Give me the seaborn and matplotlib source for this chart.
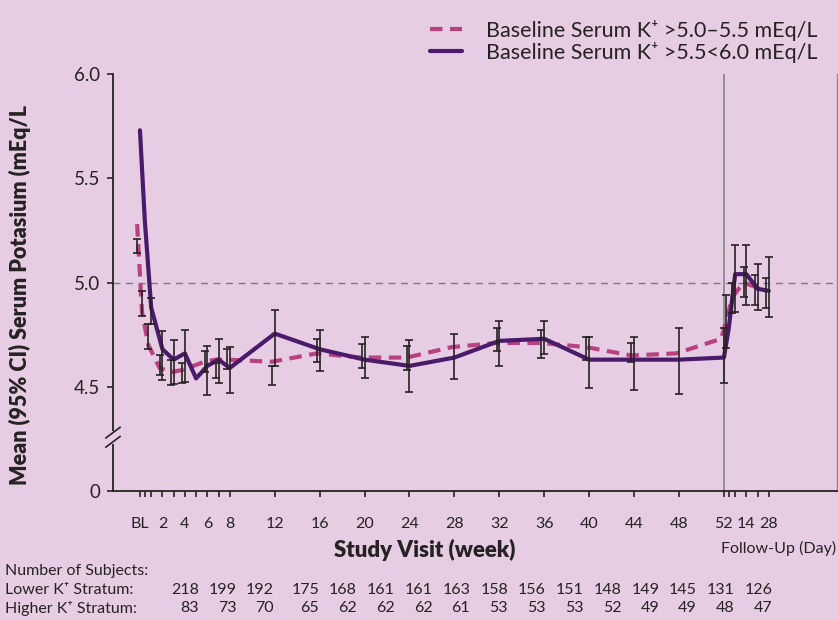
import numpy as np
import pandas as pd
import matplotlib
matplotlib.use("Agg")
import matplotlib.pyplot as plt
import seaborn as sns

# visits (weeks); follow-up days converted to weeks after week 52
weeks = [0, 0.43, 1, 2, 3, 4, 5, 6, 7, 8, 12, 16, 20, 24, 28, 32, 36, 40, 44, 48,
         52, 52.43, 53, 54, 55, 56]

lower_label = "Baseline Serum K\u207a >5.0\u20135.5 mEq/L"
higher_label = "Baseline Serum K\u207a >5.5<6.0 mEq/L"

lower_mean = [5.28, 4.86, 4.70, 4.59, 4.57, 4.58, 4.60, 4.62, 4.63, 4.63, 4.62, 4.66,
              4.64, 4.64, 4.69, 4.71, 4.71, 4.69, 4.65, 4.66, 4.73, 4.81, 4.93, 5.00,
              4.98, 4.96]
higher_mean = [5.73, 5.30, 4.88, 4.68, 4.63, 4.66, 4.54, 4.60, 4.63, 4.59, 4.755, 4.68,
               4.63, 4.60, 4.64, 4.72, 4.73, 4.63, 4.63, 4.63, 4.64, 4.78, 5.04, 5.04,
               4.97, 4.96]

nan = np.nan
lower_lo = [5.14, 4.84, 4.68, 4.555, 4.51, 4.52, nan, 4.57, 4.54, 4.585, 4.51, 4.62,
            4.59, 4.58, nan, 4.67, 4.64, 4.63, 4.62, nan, nan, 4.685, 4.855, 4.93,
            4.89, 4.88]
lower_hi = [5.21, 4.96, 4.80, 4.65, 4.63, 4.615, nan, 4.67, 4.615, 4.68, 4.60, 4.73,
            4.705, 4.695, nan, 4.78, 4.77, 4.74, 4.71, nan, nan, 4.94, 5.00, 5.075,
            5.035, 5.02]
higher_lo = [nan, nan, 4.80, 4.53, 4.515, 4.525, nan, 4.46, 4.52, 4.47, 4.60, 4.575,
             4.54, 4.475, 4.535, 4.60, 4.655, 4.495, 4.485, 4.465, 4.52, nan, 4.86,
             4.89, 4.87, 4.835]
higher_hi = [nan, nan, 4.925, 4.765, 4.725, 4.77, nan, 4.695, 4.73, 4.69, 4.87, 4.77,
             4.74, 4.725, 4.755, 4.815, 4.815, 4.74, 4.74, 4.78, 4.78, nan, 5.18,
             5.18, 5.09, 5.12]

major_ticks = [0, 2, 4, 6, 8, 12, 16, 20, 24, 28, 32, 36, 40, 44, 48, 52, 54, 56]
major_labels = ["BL", "2", "4", "6", "8", "12", "16", "20", "24", "28", "32", "36",
                "40", "44", "48", "52", "14", "28"]
minor_ticks = [0.43, 1, 3, 5, 7, 52.43, 53, 55]
y_ticks = [4.0, 4.5, 5.0, 5.5, 6.0]
y_labels = ["0", "4.5", "5.0", "5.5", "6.0"]

lower_n = [218, 199, 192, 175, 168, 161, 161, 163, 158, 156, 151, 148, 149, 145, 131, 126]
higher_n = [83, 73, 70, 65, 62, 62, 62, 61, 53, 53, 53, 52, 49, 49, 48, 47]

BG = "#E6CDE3"
PINK = "#B8427F"
PURPLE = "#4A1A6B"
INK = "#262223"

sns.set_theme(style="ticks", rc={"figure.facecolor": BG, "axes.facecolor": BG,
                                 "axes.edgecolor": INK, "text.color": INK,
                                 "xtick.color": INK, "ytick.color": INK,
                                 "axes.labelcolor": INK})
plt.rcParams["font.family"] = ["Lato", "DejaVu Sans"]

W, H = 838, 620
fig = plt.figure(figsize=(W / 100, H / 100), dpi=100)
ax = fig.add_axes([113 / W, 129 / H, 724 / W, 417 / H])

shift = -0.25  # lower stratum drawn a touch to the left
wk = np.array(weeks)
df = pd.DataFrame({
    "week": np.concatenate([wk + shift, wk]),
    "mean": lower_mean + higher_mean,
    "stratum": [lower_label] * len(weeks) + [higher_label] * len(weeks),
})

ax.axhline(5.0, color="#7A7A7A", lw=1.0, dashes=(5, 4), zorder=1)
ax.axvline(52, color="#8A8A8A", lw=1.3, zorder=1)

sns.lineplot(data=df, x="week", y="mean", hue="stratum", style="stratum",
             palette={lower_label: PINK, higher_label: PURPLE},
             dashes={lower_label: (3, 1.8), higher_label: ""},
             linewidth=3.0, sort=False, estimator=None, ax=ax, zorder=2)

for xs, lo, hi in [(wk + shift, lower_lo, lower_hi), (wk, higher_lo, higher_hi)]:
    lo = np.array(lo)
    hi = np.array(hi)
    ax.errorbar(xs, (lo + hi) / 2, yerr=(hi - lo) / 2, fmt="none", ecolor=INK,
                elinewidth=1.2, capsize=3, capthick=1.2, zorder=3)

ax.set_xlim(-2.4, 62.07)
ax.set_ylim(4.0, 6.0)
ax.set_xticks(major_ticks)
ax.set_xticklabels(major_labels)
ax.set_xticks(minor_ticks, minor=True)
ax.set_yticks(y_ticks)
ax.set_yticklabels(y_labels)
ax.tick_params(axis="x", which="both", length=4, width=1.2, labelsize=11.5, pad=15)
ax.tick_params(axis="y", length=4, width=1.2, labelsize=13.5, pad=5)

sns.despine(ax=ax, top=True, right=False)
ax.spines["left"].set_linewidth(1.3)
ax.spines["bottom"].set_linewidth(1.3)
ax.spines["right"].set_color("#8A8A8A")
ax.spines["right"].set_linewidth(1.0)

# axis break on the left spine
ax.plot([0, 0], [0.118, 0.14], transform=ax.transAxes, color=BG, lw=3,
        clip_on=False, zorder=5)
for yb in (0.118, 0.14):
    ax.plot([-0.01, 0.01], [yb - 0.013, yb + 0.013], transform=ax.transAxes,
            color=INK, lw=1.2, clip_on=False, zorder=6)

ax.set_xlabel("Study Visit (week)", fontsize=16, fontweight="heavy")
ax.xaxis.set_label_coords(0.431, -0.115)
ax.set_ylabel("Mean (95% CI) Serum Potasium (mEq/L", fontsize=15.5, fontweight="heavy")
ax.yaxis.set_label_coords(-0.113, 0.47)

handles, labels = ax.get_legend_handles_labels()
ax.legend(handles, labels, loc="upper left", bbox_to_anchor=(0.438, 1.13),
          frameon=False, fontsize=15.5, handlelength=1.5, handletextpad=1.1,
          labelspacing=0.05, borderaxespad=0, borderpad=0)

fig.text(836 / W, 1 - 548 / H, "Follow-Up (Day)", ha="right", va="center", fontsize=11.5)

fig.text(5 / W, 1 - 571 / H, "Number of Subjects:", ha="left", va="center", fontsize=11.5)
fig.text(5 / W, 1 - 590 / H, "Lower K\u207a Stratum:", ha="left", va="center", fontsize=11.5)
fig.text(5 / W, 1 - 608 / H, "Higher K\u207a Stratum:", ha="left", va="center", fontsize=11.5)
for i, (a, b) in enumerate(zip(lower_n, higher_n)):
    xr = 199 + 37.5 * i if i < 3 else 319 + 37.8 * (i - 3)
    fig.text(xr / W, 1 - 590 / H, str(a), ha="right", va="center", fontsize=11.5)
    fig.text(xr / W, 1 - 608 / H, str(b), ha="right", va="center", fontsize=11.5)

fig.savefig("out.png", dpi=100, facecolor=BG)
